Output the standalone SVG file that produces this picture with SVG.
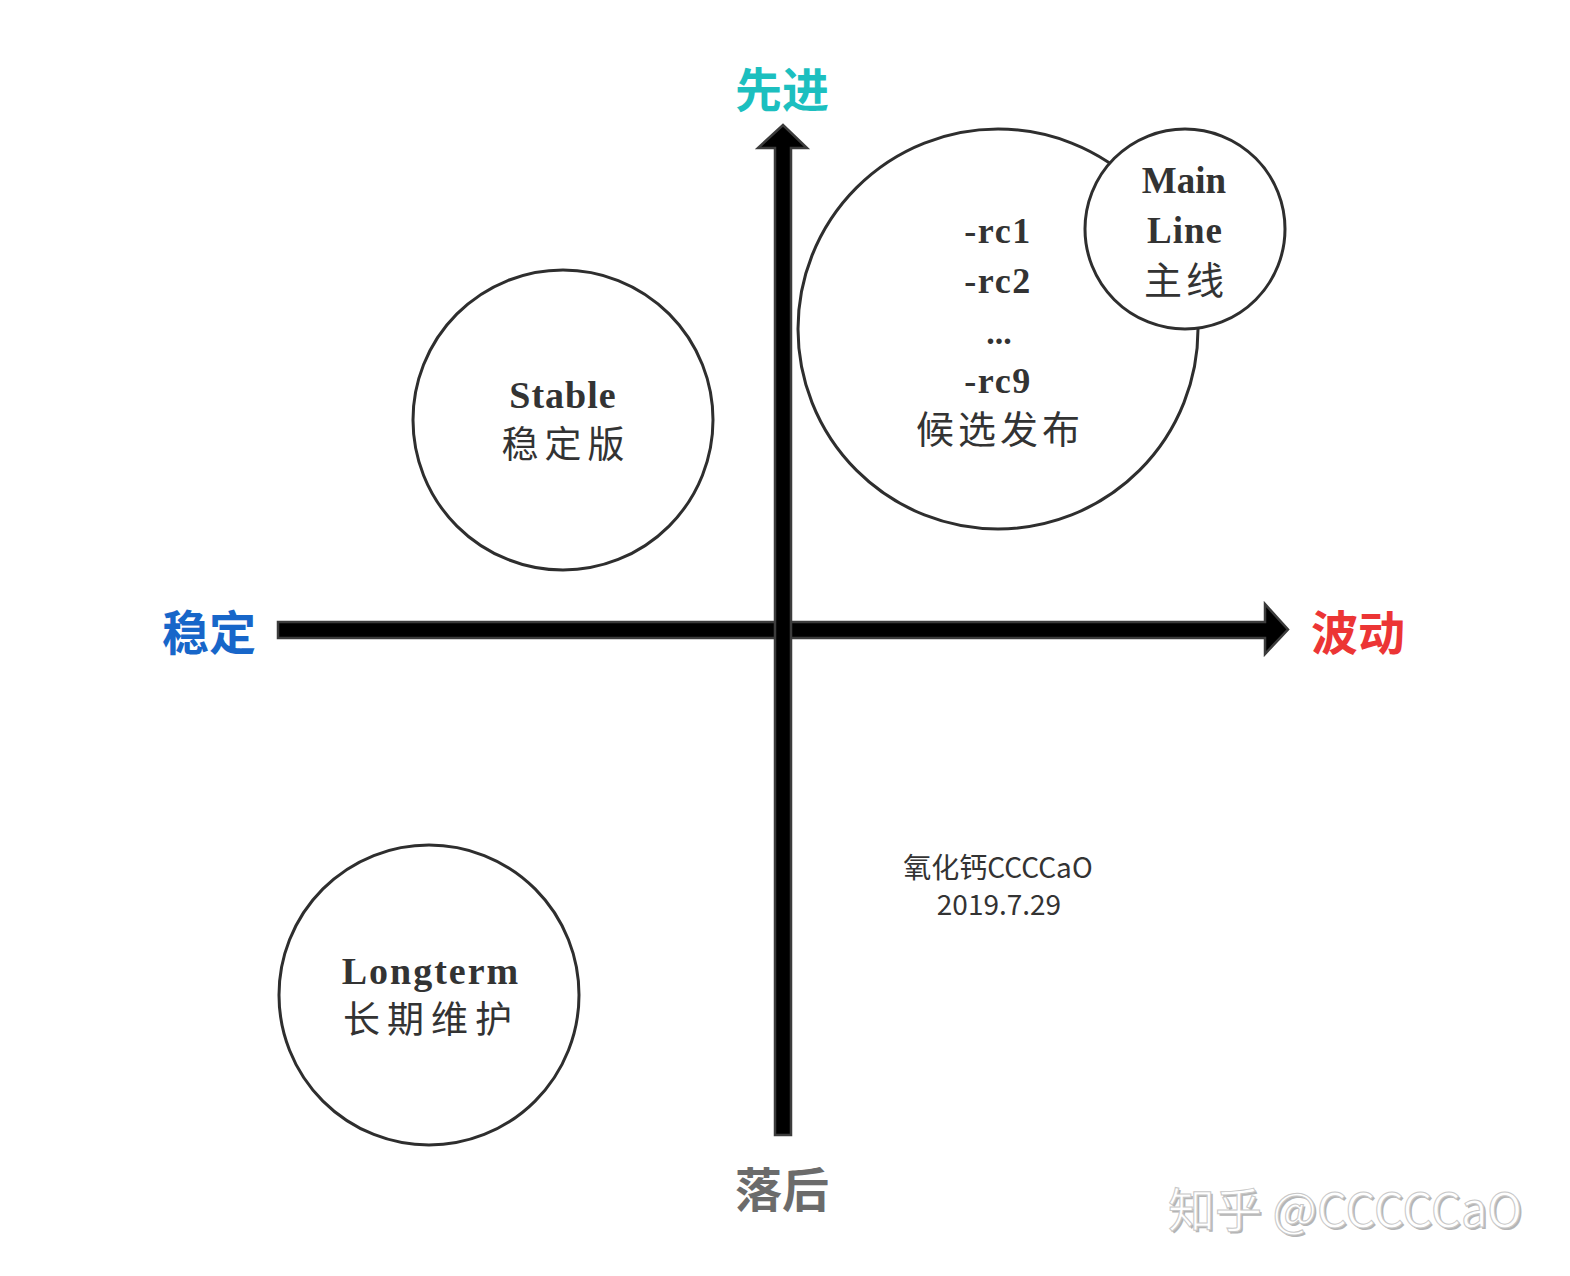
<svg xmlns="http://www.w3.org/2000/svg" width="1570" height="1276" viewBox="0 0 1570 1276">
<style>
.axis{fill:#000;stroke:#3c3c3c;stroke-width:2.5;stroke-linejoin:miter}
.node{fill:#fff;stroke:#2e2e2e;stroke-width:3}
.en{font-family:"Liberation Serif",serif;font-weight:bold;fill:#333;text-anchor:middle}
.zh{font-family:"Noto Sans CJK SC",sans-serif;font-weight:normal;fill:#333;text-anchor:middle}
.lab{font-family:"Noto Sans CJK SC",sans-serif;font-weight:bold;font-size:47px;text-anchor:middle}
.note{font-family:"Noto Sans CJK SC",sans-serif;fill:#333;font-size:28px;text-anchor:middle}
.wm{font-family:"Noto Sans CJK SC",sans-serif;font-size:47px}
</style>
<rect width="1570" height="1276" fill="#fff"/>
<g id="connectors">
<path class="axis" d="M278,622 H1265 V604 L1288,629.5 L1265,654 V638 H278 Z"/>
<path class="axis" d="M775,1135 V148 H758 L783,125 L807,148 H791 V1135 Z"/>
</g>
<g id="label-advanced"><text class="lab" x="782" y="107" fill="#1cbfbf">先进</text></g>
<g id="label-stable"><text class="lab" x="209" y="650" fill="#1766c9">稳定</text></g>
<g id="label-volatile"><text class="lab" x="1358" y="650" fill="#ec3535">波动</text></g>
<g id="label-behind"><text class="lab" x="782" y="1207" fill="#6b6b6b">落后</text></g>
<g id="node-stable">
<circle class="node" cx="563" cy="420" r="150"/>
<text class="en" x="563" y="408" font-size="38" letter-spacing="1">Stable</text>
<text class="zh" x="566" y="458" font-size="37" letter-spacing="6">稳定版</text>
</g>
<g id="node-longterm">
<circle class="node" cx="429" cy="995" r="150"/>
<text class="en" x="431" y="984" font-size="38" letter-spacing="2">Longterm</text>
<text class="zh" x="431" y="1033" font-size="37" letter-spacing="7">长期维护</text>
</g>
<g id="node-rc">
<circle class="node" cx="998" cy="329" r="200"/>
<text class="en" x="998" y="243" font-size="36" letter-spacing="1.5">-rc1</text>
<text class="en" x="998" y="293" font-size="36" letter-spacing="1.5">-rc2</text>
<text class="en" x="999" y="344" font-size="34" letter-spacing="0">...</text>
<text class="en" x="998" y="393" font-size="36" letter-spacing="1.5">-rc9</text>
<text class="zh" x="1000" y="443" font-size="38" letter-spacing="4">候选发布</text>
</g>
<g id="node-mainline">
<circle class="node" cx="1185" cy="229" r="100"/>
<text class="en" x="1184" y="193" font-size="37">Main</text>
<text class="en" x="1185" y="243" font-size="37" letter-spacing="1">Line</text>
<text class="zh" x="1186" y="294" font-size="38" letter-spacing="4">主线</text>
</g>
<g id="annotation">
<text class="note" x="998" y="878">氧化钙CCCCaO</text>
<text class="note" x="999" y="915">2019.7.29</text>
</g>
<g id="watermark">
<text class="wm" x="1168" y="1227" fill="#b5b5b5" transform="translate(2,2)">知乎 @CCCCCaO</text>
<text class="wm" x="1168" y="1227" fill="#fff" stroke="#c8c8c8" stroke-width="1">知乎 @CCCCCaO</text>
</g>
</svg>
